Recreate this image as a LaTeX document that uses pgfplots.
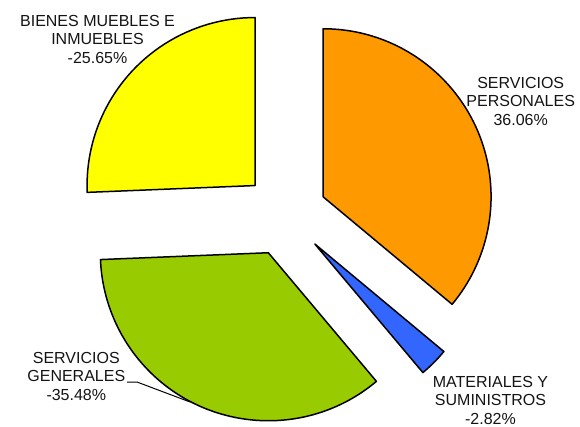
\documentclass[border=0pt]{standalone}
\usepackage{pgfplots}
\pgfplotsset{compat=1.18}
\usepackage{fontspec}
\setmainfont{Liberation Sans}

\definecolor{cyellow}{HTML}{FFFF00}
\definecolor{corange}{HTML}{FF9900}
\definecolor{cblue}{HTML}{3366FF}
\definecolor{cgreen}{HTML}{99CC00}

\begin{document}
\begin{tikzpicture}
% percentages (shares of the pie use absolute values)
\def\vA{36.06}  % servicios personales
\def\vB{-2.82}  % materiales y suministros
\def\vC{-35.48} % servicios generales
\def\vD{-25.65} % bienes muebles e inmuebles
\pgfmathsetmacro\tot{abs(\vA)+abs(\vB)+abs(\vC)+abs(\vD)}
\pgfmathsetmacro\aA{90}
\pgfmathsetmacro\aB{\aA-360*abs(\vA)/\tot}
\pgfmathsetmacro\aC{\aB-360*abs(\vB)/\tot}
\pgfmathsetmacro\aD{\aC-360*abs(\vC)/\tot}
\pgfmathsetmacro\aE{\aD-360*abs(\vD)/\tot}
\pgfmathsetmacro\mA{(\aA+\aB)/2}
\pgfmathsetmacro\mB{(\aB+\aC)/2}
\pgfmathsetmacro\mC{(\aC+\aD)/2}
\pgfmathsetmacro\mD{(\aD+\aE)/2}
\def\cx{285.2}
\def\cy{214.5}
\def\R{168pt}
\def\ex{41.8pt}

\path[use as bounding box] (0,0) rectangle (580pt,427pt);
\begin{axis}[
    at={(0,0)}, anchor=south west,
    width=580pt, height=427pt, scale only axis,
    xmin=0, xmax=580, ymin=0, ymax=427,
    y dir=reverse,
    hide axis, clip=false,
]
\fill[fill=corange, draw=black, line width=1.5pt, line join=round]
    (axis cs:\cx,\cy) ++(\mA:\ex) -- ++(\aA:\R) arc[start angle=\aA, end angle=\aB, radius=\R] -- cycle;
\fill[fill=cblue, draw=black, line width=1.5pt, line join=round]
    (axis cs:\cx,\cy) ++(\mB:\ex) -- ++(\aB:\R) arc[start angle=\aB, end angle=\aC, radius=\R] -- cycle;
\fill[fill=cgreen, draw=black, line width=1.5pt, line join=round]
    (axis cs:\cx,\cy) ++(\mC:\ex) -- ++(\aC:\R) arc[start angle=\aC, end angle=\aD, radius=\R] -- cycle;
\fill[fill=cyellow, draw=black, line width=1.5pt, line join=round]
    (axis cs:\cx,\cy) ++(\mD:\ex) -- ++(\aD:\R) arc[start angle=\aD, end angle=\aE, radius=\R] -- cycle;

\draw[black, line width=1pt] (axis cs:127,382) -- (axis cs:137,382) -- (axis cs:190,402);

\tikzset{lbl/.style={align=center, inner sep=0pt, text=black!92, font=\fontsize{16pt}{18.5pt}\selectfont}}
\node[lbl] at (axis cs:520.7,101) {SERVICIOS\\PERSONALES\\36.06\%};
\node[lbl] at (axis cs:490.5,400) {MATERIALES Y\\SUMINISTROS\\-2.82\%};
\node[lbl] at (axis cs:76.3,376) {SERVICIOS\\GENERALES\\-35.48\%};
\node[lbl] at (axis cs:97.5,39) {BIENES MUEBLES E\\INMUEBLES\\-25.65\%};
\end{axis}
\end{tikzpicture}
\end{document}
